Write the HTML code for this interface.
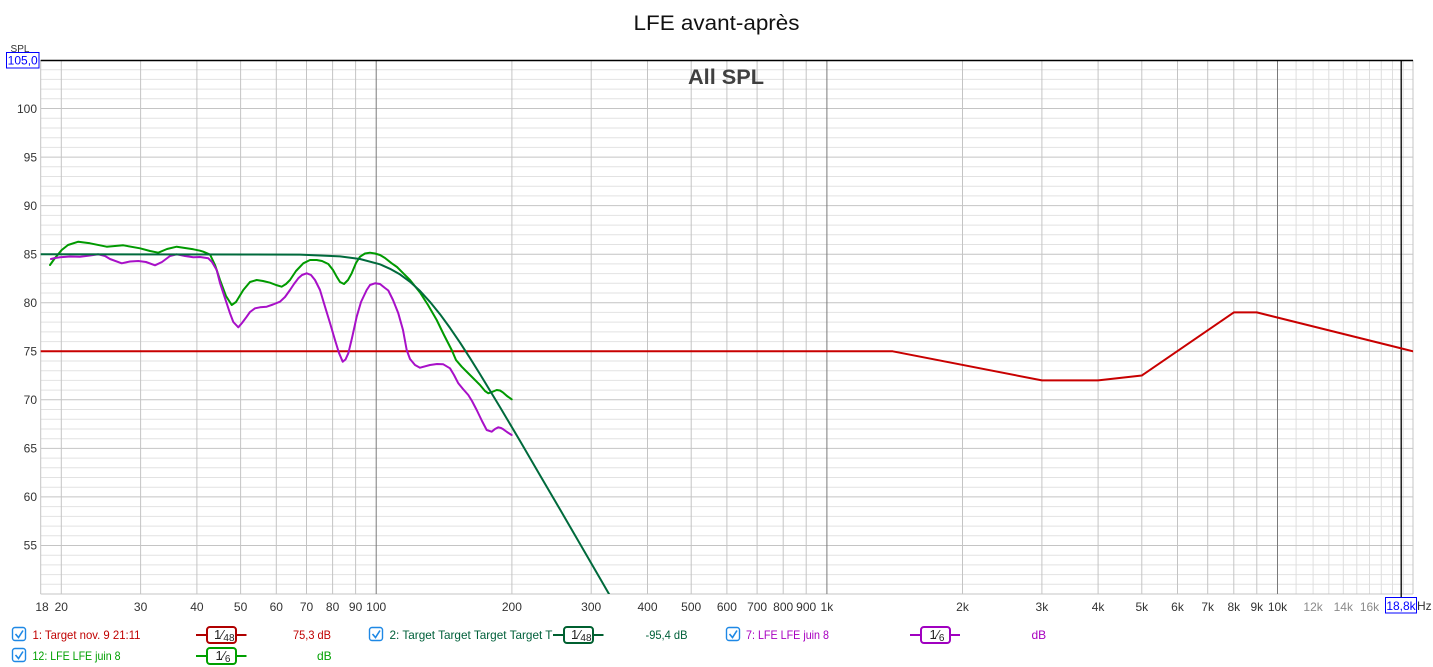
<!DOCTYPE html>
<html><head><meta charset="utf-8"><style>
html,body{margin:0;padding:0;background:#fff;}
svg{display:block;}
text{font-family:"Liberation Sans",Arial,sans-serif;}
</style></head><body>
<svg width="1433" height="667" viewBox="0 0 1433 667" xmlns="http://www.w3.org/2000/svg">
<rect width="1433" height="667" fill="#fff"/>
<defs><clipPath id="plot"><rect x="40.7" y="60" width="1372.4" height="534"/></clipPath></defs>

<!-- title -->
<text x="716.5" y="30" font-size="21" fill="#111" text-anchor="middle" textLength="166" lengthAdjust="spacingAndGlyphs">LFE avant-après</text>

<!-- horizontal minor grid -->
<g stroke="#e2e2e2" stroke-width="1">
<line x1="40.7" x2="1413" y1="69.7" y2="69.7"/><line x1="40.7" x2="1413" y1="79.4" y2="79.4"/><line x1="40.7" x2="1413" y1="89.1" y2="89.1"/><line x1="40.7" x2="1413" y1="98.8" y2="98.8"/>
<line x1="40.7" x2="1413" y1="118.3" y2="118.3"/><line x1="40.7" x2="1413" y1="128.0" y2="128.0"/><line x1="40.7" x2="1413" y1="137.7" y2="137.7"/><line x1="40.7" x2="1413" y1="147.4" y2="147.4"/>
<line x1="40.7" x2="1413" y1="166.8" y2="166.8"/><line x1="40.7" x2="1413" y1="176.5" y2="176.5"/><line x1="40.7" x2="1413" y1="186.2" y2="186.2"/><line x1="40.7" x2="1413" y1="195.9" y2="195.9"/>
<line x1="40.7" x2="1413" y1="215.4" y2="215.4"/><line x1="40.7" x2="1413" y1="225.1" y2="225.1"/><line x1="40.7" x2="1413" y1="234.8" y2="234.8"/><line x1="40.7" x2="1413" y1="244.5" y2="244.5"/>
<line x1="40.7" x2="1413" y1="263.9" y2="263.9"/><line x1="40.7" x2="1413" y1="273.6" y2="273.6"/><line x1="40.7" x2="1413" y1="283.3" y2="283.3"/><line x1="40.7" x2="1413" y1="293.0" y2="293.0"/>
<line x1="40.7" x2="1413" y1="312.4" y2="312.4"/><line x1="40.7" x2="1413" y1="322.1" y2="322.1"/><line x1="40.7" x2="1413" y1="331.9" y2="331.9"/><line x1="40.7" x2="1413" y1="341.6" y2="341.6"/>
<line x1="40.7" x2="1413" y1="361.0" y2="361.0"/><line x1="40.7" x2="1413" y1="370.7" y2="370.7"/><line x1="40.7" x2="1413" y1="380.4" y2="380.4"/><line x1="40.7" x2="1413" y1="390.1" y2="390.1"/>
<line x1="40.7" x2="1413" y1="409.5" y2="409.5"/><line x1="40.7" x2="1413" y1="419.2" y2="419.2"/><line x1="40.7" x2="1413" y1="429.0" y2="429.0"/><line x1="40.7" x2="1413" y1="438.7" y2="438.7"/>
<line x1="40.7" x2="1413" y1="458.1" y2="458.1"/><line x1="40.7" x2="1413" y1="467.8" y2="467.8"/><line x1="40.7" x2="1413" y1="477.5" y2="477.5"/><line x1="40.7" x2="1413" y1="487.2" y2="487.2"/>
<line x1="40.7" x2="1413" y1="506.6" y2="506.6"/><line x1="40.7" x2="1413" y1="516.4" y2="516.4"/><line x1="40.7" x2="1413" y1="526.1" y2="526.1"/><line x1="40.7" x2="1413" y1="535.8" y2="535.8"/>
<line x1="40.7" x2="1413" y1="555.2" y2="555.2"/><line x1="40.7" x2="1413" y1="564.9" y2="564.9"/><line x1="40.7" x2="1413" y1="574.6" y2="574.6"/><line x1="40.7" x2="1413" y1="584.3" y2="584.3"/>
</g>
<!-- vertical light grid above 10k -->
<g stroke="#dedede" stroke-width="1">
<line x1="1296.1" x2="1296.1" y1="60" y2="594"/><line x1="1313.1" x2="1313.1" y1="60" y2="594"/><line x1="1328.8" x2="1328.8" y1="60" y2="594"/><line x1="1343.3" x2="1343.3" y1="60" y2="594"/><line x1="1356.8" x2="1356.8" y1="60" y2="594"/><line x1="1369.5" x2="1369.5" y1="60" y2="594"/><line x1="1381.3" x2="1381.3" y1="60" y2="594"/><line x1="1392.5" x2="1392.5" y1="60" y2="594"/><line x1="1403.1" x2="1403.1" y1="60" y2="594"/>
</g>
<!-- horizontal major grid -->
<g stroke="#c4c4c4" stroke-width="1">
<line x1="40.7" x2="1413" y1="108.5" y2="108.5"/><line x1="40.7" x2="1413" y1="157.1" y2="157.1"/><line x1="40.7" x2="1413" y1="205.6" y2="205.6"/><line x1="40.7" x2="1413" y1="254.2" y2="254.2"/><line x1="40.7" x2="1413" y1="302.7" y2="302.7"/><line x1="40.7" x2="1413" y1="351.3" y2="351.3"/><line x1="40.7" x2="1413" y1="399.8" y2="399.8"/><line x1="40.7" x2="1413" y1="448.4" y2="448.4"/><line x1="40.7" x2="1413" y1="496.9" y2="496.9"/><line x1="40.7" x2="1413" y1="545.5" y2="545.5"/>
</g>
<!-- vertical grid -->
<g stroke="#c4c4c4" stroke-width="1">
<line x1="61.3" x2="61.3" y1="60" y2="594"/><line x1="140.6" x2="140.6" y1="60" y2="594"/><line x1="196.9" x2="196.9" y1="60" y2="594"/><line x1="240.6" x2="240.6" y1="60" y2="594"/><line x1="276.3" x2="276.3" y1="60" y2="594"/><line x1="306.5" x2="306.5" y1="60" y2="594"/><line x1="332.6" x2="332.6" y1="60" y2="594"/><line x1="355.6" x2="355.6" y1="60" y2="594"/>
<line x1="511.9" x2="511.9" y1="60" y2="594"/><line x1="591.2" x2="591.2" y1="60" y2="594"/><line x1="647.5" x2="647.5" y1="60" y2="594"/><line x1="691.2" x2="691.2" y1="60" y2="594"/><line x1="726.9" x2="726.9" y1="60" y2="594"/><line x1="757.1" x2="757.1" y1="60" y2="594"/><line x1="783.2" x2="783.2" y1="60" y2="594"/><line x1="806.2" x2="806.2" y1="60" y2="594"/>
<line x1="962.5" x2="962.5" y1="60" y2="594"/><line x1="1041.9" x2="1041.9" y1="60" y2="594"/><line x1="1098.1" x2="1098.1" y1="60" y2="594"/><line x1="1141.8" x2="1141.8" y1="60" y2="594"/><line x1="1177.5" x2="1177.5" y1="60" y2="594"/><line x1="1207.7" x2="1207.7" y1="60" y2="594"/><line x1="1233.8" x2="1233.8" y1="60" y2="594"/><line x1="1256.8" x2="1256.8" y1="60" y2="594"/>
<line x1="40.7" x2="40.7" y1="60" y2="594"/><line x1="1413" x2="1413" y1="60" y2="594"/><line x1="40.7" x2="1413" y1="594" y2="594"/>
</g>
<g stroke="#7a7a7a" stroke-width="1">
<line x1="376.2" x2="376.2" y1="60" y2="594"/><line x1="826.9" x2="826.9" y1="60" y2="594"/><line x1="1277.5" x2="1277.5" y1="60" y2="594"/>
</g>
<line x1="40.7" x2="1413" y1="60.5" y2="60.5" stroke="#000" stroke-width="1.5"/>
<!-- cursor -->
<line x1="1401.2" x2="1401.2" y1="60" y2="597" stroke="#000" stroke-width="1.3"/>

<!-- All SPL -->
<text x="726" y="84" font-size="21" font-weight="bold" fill="#404040" text-anchor="middle" textLength="76" lengthAdjust="spacingAndGlyphs">All SPL</text>

<!-- curves -->
<g clip-path="url(#plot)" fill="none" stroke-linejoin="round" stroke-linecap="round">
<polyline stroke="#c80000" stroke-width="2" points="40.7,351.3 892.7,351.3 1041.9,380.4 1098.1,380.4 1141.8,375.5 1233.8,312.4 1256.8,312.4 1413,351.3"/>
<polyline stroke="#009a00" stroke-width="2" points="50,265 55,258 61.7,250 68,245 78.3,241.7 90,243.3 106.7,246.7 123.3,245.3 140,248.3 150,251 158.3,252.7 167,249 176.7,246.7 193.3,249.3 200,250.7 203.3,251.7 210,254.5 215,265 220,280 226,296 231.7,305 236,302 243.3,290 250,282 256.7,280 263,281 270,282.7 276,285 281.7,286.7 286,284 290,280 296,271 303.3,263.3 310,260 316.7,260 322,261 328.3,264 333,270 336.7,276.7 340,282 344,284 348,280 351.7,273.3 356,263 360,256.7 365,253.5 370,252.7 375,253.5 380,255 385,258 391.7,263.3 397,267 403.3,273.3 410,280 420,292.5 428,305 436.7,320 444,335 451.7,350 456,360 461.7,366.7 466,371 470,375 475,380 480,385 485,391 488.3,393.3 492,392 496.7,390 500,390.5 503.3,392.7 507,396 511.7,399.3"/>
<polyline stroke="#a810c8" stroke-width="2" points="51,259 55,258 60,257.3 70,256.5 80,256.7 90,255.5 98.3,254.3 105,256 110,259 121.7,263.3 130,261.5 138.3,261 146,262 155,265.3 162,262 170,256 176.7,254.3 185,256 193.3,257.3 200,257 208.3,258.3 212,262 216.7,270 220,283 226.7,303.3 230,313.3 233.3,322 238.3,327.3 242,323 246.7,316.7 250,312 255,308.3 260,307.3 266.7,306.7 273,304.5 280,301.7 285,297 290,290 294,284 298.3,278.3 302,275 306.7,273.3 311,275 315,280 320,290 325,306.7 330,323 335,340 339,353 342.7,361.7 345.5,359.5 348.3,353.3 352,338 356.7,316.7 361,302 366.7,290 370,285 375,283.3 380,284 385,288 388.3,290.5 393,300 398.3,313.3 403,330 406.7,350 410,359 415,365 420,367.7 430,365 437,364 443.3,364.3 450,368.3 454,375 458.3,383.3 463,389 468.3,395 472,401 476.7,410 482,421 486.7,430 491.7,431.7 495,429 498.3,427.3 501,428 503.3,429.3 507,432 511.7,435"/>
<polyline stroke="#006a3c" stroke-width="2" points="40.7,254.2 300,254.6 340,256.4 360,259.0 380,264.3 390,268.8 400,274.4 410,281.8 420,290.9 430,301.9 440,314.2 450,327.9 460,342.6 470,358.1 480,374.1 490,390.6 500,407.1 520,440.9 540,475.2 560,509.4 580,543.9 600,578.4 612,599.2"/>
</g>

<!-- Y axis labels -->
<g font-size="12" fill="#333" text-anchor="end">
<text x="37" y="113">100</text><text x="37" y="161.5">95</text><text x="37" y="210">90</text><text x="37" y="258.5">85</text><text x="37" y="307">80</text><text x="37" y="355.5">75</text><text x="37" y="404">70</text><text x="37" y="452.5">65</text><text x="37" y="501">60</text><text x="37" y="549.5">55</text>
</g>
<text x="20" y="52" font-size="10" fill="#333" text-anchor="middle">SPL</text>
<rect x="6.5" y="52.5" width="32.5" height="15.5" fill="#fff" stroke="#0000ff" stroke-width="1"/>
<text x="22.7" y="64.5" font-size="12" fill="#0000ff" text-anchor="middle">105,0</text>

<!-- X axis labels -->
<g font-size="12" fill="#333" text-anchor="middle">
<text x="42" y="611">18</text><text x="61.3" y="611">20</text><text x="140.6" y="611">30</text><text x="196.9" y="611">40</text><text x="240.6" y="611">50</text><text x="276.3" y="611">60</text><text x="306.5" y="611">70</text><text x="332.6" y="611">80</text><text x="355.6" y="611">90</text><text x="376.2" y="611">100</text>
<text x="511.9" y="611">200</text><text x="591.2" y="611">300</text><text x="647.5" y="611">400</text><text x="691.2" y="611">500</text><text x="726.9" y="611">600</text><text x="757.1" y="611">700</text><text x="783.2" y="611">800</text><text x="806.2" y="611">900</text><text x="826.9" y="611">1k</text>
<text x="962.5" y="611">2k</text><text x="1041.9" y="611">3k</text><text x="1098.1" y="611">4k</text><text x="1141.8" y="611">5k</text><text x="1177.5" y="611">6k</text><text x="1207.7" y="611">7k</text><text x="1233.8" y="611">8k</text><text x="1256.8" y="611">9k</text><text x="1277.5" y="611">10k</text>
</g>
<g font-size="12" fill="#8a8a8a" text-anchor="middle">
<text x="1313.1" y="611">12k</text><text x="1343.3" y="611">14k</text><text x="1369.5" y="611">16k</text>
</g>
<rect x="1385.5" y="597.5" width="31" height="15.5" fill="#fff" stroke="#0000ff" stroke-width="1"/>
<text x="1401" y="610" font-size="12" fill="#0000ff" text-anchor="middle">18,8k</text>
<text x="1417" y="610" font-size="12" fill="#333">Hz</text>

<!-- Legend -->
<!-- checkboxes -->
<g>
<rect x="12.5" y="627.5" width="13" height="13" rx="2.5" fill="#fff" stroke="#1e88e5" stroke-width="1.4"/>
<polyline points="15.5,634 18.5,637.5 23,630.5" fill="none" stroke="#1e88e5" stroke-width="1.6"/>
<rect x="369.5" y="627.5" width="13" height="13" rx="2.5" fill="#fff" stroke="#1e88e5" stroke-width="1.4"/>
<polyline points="372.5,634 375.5,637.5 380,630.5" fill="none" stroke="#1e88e5" stroke-width="1.6"/>
<rect x="726.5" y="627.5" width="13" height="13" rx="2.5" fill="#fff" stroke="#1e88e5" stroke-width="1.4"/>
<polyline points="729.5,634 732.5,637.5 737,630.5" fill="none" stroke="#1e88e5" stroke-width="1.6"/>
<rect x="12.5" y="648.5" width="13" height="13" rx="2.5" fill="#fff" stroke="#1e88e5" stroke-width="1.4"/>
<polyline points="15.5,655 18.5,658.5 23,651.5" fill="none" stroke="#1e88e5" stroke-width="1.6"/>
</g>
<g font-size="12">
<text x="32.5" y="639" fill="#c00000" textLength="108" lengthAdjust="spacingAndGlyphs">1: Target nov. 9 21:11</text>
<text x="293" y="639" fill="#c00000" textLength="38" lengthAdjust="spacingAndGlyphs">75,3 dB</text>
<text x="389.5" y="639" fill="#00603a" textLength="163" lengthAdjust="spacingAndGlyphs">2: Target Target Target Target T</text>
<text x="645.5" y="639" fill="#00603a" textLength="42" lengthAdjust="spacingAndGlyphs">-95,4 dB</text>
<text x="746" y="639" fill="#a800c0" textLength="83" lengthAdjust="spacingAndGlyphs">7: LFE LFE juin 8</text>
<text x="1031.5" y="639" fill="#a800c0">dB</text>
<text x="32.5" y="660" fill="#00a000" textLength="88" lengthAdjust="spacingAndGlyphs">12: LFE LFE juin 8</text>
<text x="317" y="660" fill="#00a000">dB</text>
</g>
<!-- smoothing boxes -->
<g>
<line x1="196" x2="246.5" y1="635" y2="635" stroke="#b00000" stroke-width="2"/>
<rect x="207" y="627" width="29" height="16" rx="3" fill="#fff" stroke="#b00000" stroke-width="2"/>
<text x="214" y="639" font-size="13" fill="#222">1⁄<tspan font-size="10" dy="2">48</tspan></text>

<line x1="553" x2="603.5" y1="635" y2="635" stroke="#006030" stroke-width="2"/>
<rect x="564" y="627" width="29" height="16" rx="3" fill="#fff" stroke="#006030" stroke-width="2"/>
<text x="571" y="639" font-size="13" fill="#222">1⁄<tspan font-size="10" dy="2">48</tspan></text>

<line x1="910" x2="960" y1="635" y2="635" stroke="#a000c0" stroke-width="2"/>
<rect x="921" y="627" width="29" height="16" rx="3" fill="#fff" stroke="#a000c0" stroke-width="2"/>
<text x="929.5" y="639" font-size="13" fill="#222">1⁄<tspan font-size="10" dy="2">6</tspan></text>

<line x1="196" x2="246.5" y1="656" y2="656" stroke="#00a000" stroke-width="2"/>
<rect x="207" y="648" width="29" height="16" rx="3" fill="#fff" stroke="#00a000" stroke-width="2"/>
<text x="215.5" y="660" font-size="13" fill="#222">1⁄<tspan font-size="10" dy="2">6</tspan></text>
</g>
</svg>
</body></html>
